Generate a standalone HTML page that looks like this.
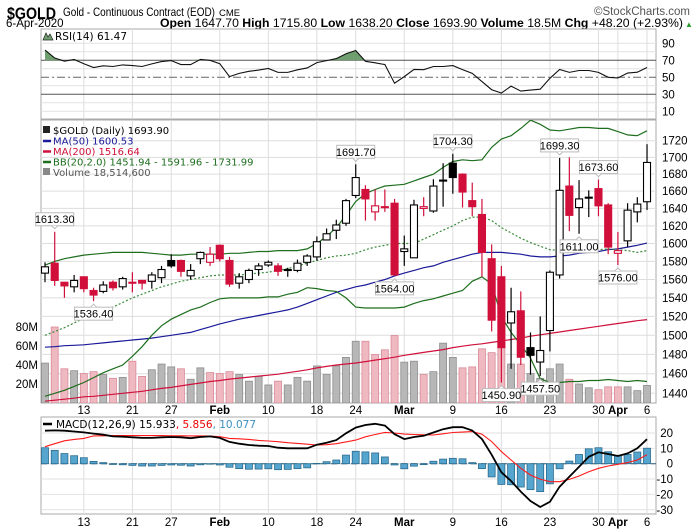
<!DOCTYPE html>
<html><head><meta charset="utf-8"><title>$GOLD chart</title>
<style>
html,body{margin:0;padding:0;background:#fff;}
svg{display:block;font-family:"Liberation Sans",sans-serif;}
.n{font-family:"Liberation Sans Narrow","Liberation Sans",sans-serif;}
.v{font-family:"DejaVu Sans",sans-serif;}
</style></head>
<body>
<svg id="c" width="700" height="530" viewBox="0 0 700 530" xmlns="http://www.w3.org/2000/svg">
<g>
<text x="7" y="19" class="n" font-size="17" font-weight="bold" textLength="49" lengthAdjust="spacingAndGlyphs">$GOLD</text>
<text x="63" y="16" class="n" font-size="12" textLength="152" lengthAdjust="spacingAndGlyphs">Gold - Continuous Contract (EOD)</text>
<text x="219" y="16" class="n" font-size="9.5">CME</text>
<text x="690" y="15" class="n" font-size="11.5" fill="#555" text-anchor="end">©StockCharts.com</text>
<text x="6" y="27" class="n" font-size="11.5">6-Apr-2020</text>
<text x="160" y="27" class="n" font-size="11.5" textLength="523" lengthAdjust="spacingAndGlyphs"><tspan font-weight="bold">Open</tspan> 1647.70 <tspan font-weight="bold">High</tspan> 1715.80 <tspan font-weight="bold">Low</tspan> 1638.20 <tspan font-weight="bold">Close</tspan> 1693.90 <tspan font-weight="bold">Volume</tspan> 18.5M <tspan font-weight="bold">Chg</tspan> +48.20 (+2.93%)</text>
<text x="685" y="27" font-size="8" fill="#2a9a2a">▲</text>
</g>
<g id="grid"></g>
<g id="rsi"></g>
<g id="main"></g>
<g id="macd"></g>
<g id="labels"></g>
</svg>
<script>
const dates=["7","8","9","10","13","14","15","16","17","21","22","23","24","27","28","29","30","31","Feb","4","5","6","7","10","11","12","13","14","18","19","20","21","24","25","26","27","28","Mar","3","4","5","6","9","10","11","12","13","16","17","18","19","20","23","24","25","26","27","30","31","Apr","2","3","6"];
const openP=[1567,1578,1557,1552,1563,1548,1547,1557,1552,1557,1559,1558,1562,1581,1581,1564,1583,1579,1598,1581,1556,1560,1571,1576,1575,1570,1570,1579,1585,1604,1615,1623,1655,1662,1636,1642,1646,1591,1584,1640,1637,1673,1693,1680,1649,1633,1583,1563,1513,1526,1487,1472,1505,1565,1666,1641,1653,1663,1644,1589,1603,1636,1647.7];
const highP=[1579,1613.3,1557,1565,1563,1551,1558,1559,1563,1568,1559,1568,1575,1588,1582,1577,1591,1596,1599,1585,1567,1572,1578,1581,1578,1573,1582,1588,1608,1617,1627,1651,1691.7,1667,1662,1662,1651,1609,1650,1653,1674,1693,1704.3,1681,1670,1651,1599,1575,1551,1547,1503,1520,1570,1699.3,1700,1673,1661,1673.6,1646,1613,1646,1653,1715.8];
const lowP=[1557,1553,1540,1546,1546,1536.4,1545,1548,1549,1546,1549,1550,1556,1573,1563,1560,1577,1575,1580,1552,1550,1556,1564,1574,1564,1563,1568,1575,1581,1604,1605,1620,1652,1626,1626,1636,1564,1575,1584,1631,1635,1642,1657,1641,1631,1563,1504,1450.9,1465,1469,1459,1457.5,1483,1561,1614,1611,1630,1631,1588,1576,1596,1624,1638.2];
const closeP=[1574,1559,1553,1559,1550,1543,1554,1551,1561,1557,1556,1565,1571,1575,1569,1570,1590,1588,1583,1555,1563,1570,1575,1579,1569,1571,1578,1586,1602,1611,1621,1649,1676,1651,1643,1642,1565,1594,1644,1642,1666,1673,1676,1659,1642,1590,1516,1487,1525,1477,1479,1484,1568,1661,1632,1651,1653,1643,1596,1592,1638,1645,1693.9];
const volumeM=[42,80,36,34,31,33,30,26,27,44,28,35,41,38,36,25,37,32,31,33,30,23,28,19,23,19,27,23,39,30,39,48,65,65,51,56,71,43,44,30,33,63,48,37,38,57,53,63,41,41,31,26,36,41,25,20,16,14,17,17,17,13,18.5];
const ma50=[1487.5,1488,1489,1489.5,1490,1491,1492,1493,1494,1495,1496,1497,1498.5,1500,1501.5,1503,1506,1509,1512,1514.5,1517,1519,1521,1523,1525,1527,1530,1534,1538,1542,1546,1549,1552,1554,1557,1560,1564,1567,1570,1573,1575,1579,1582,1585,1588,1590,1590,1590,1589,1588,1586,1585,1585,1586,1587,1589,1590,1591,1593,1594,1596,1598,1600.5];
const ma200=[1432,1433,1434,1435,1436.5,1437,1438,1439,1440,1441,1442,1443.5,1445,1446,1447.5,1449,1450.5,1452,1453,1454.5,1455.5,1456.5,1457.5,1458.5,1459.5,1461,1462.5,1464,1466,1467.5,1469,1470,1471,1472.5,1474,1475.5,1477,1479,1480.5,1482,1483.5,1485,1487,1488.5,1490,1491,1492.5,1494,1495.5,1497,1499,1500.5,1502,1503.5,1505,1506.5,1508,1509.5,1511,1512.5,1514,1515.5,1516.6];
const bbUpper=[1576,1580,1583,1585,1587,1588,1589,1590,1590,1590,1590,1589,1588,1587,1587,1588,1588,1588,1588,1589,1589,1590,1591,1591,1592,1592,1592,1594,1600,1608,1618,1632,1648,1657,1662,1666,1667,1668,1672,1676,1680,1688,1695,1697,1696,1697,1712,1722,1726,1735,1745,1740,1733,1732,1734,1736,1736,1735,1735,1731,1727,1726,1732];
const bbMid=[1500,1504,1508,1513,1518,1522,1526,1530,1535,1540,1544,1548,1552,1555,1558,1560,1562,1564,1565,1565,1565,1566,1567,1568,1570,1572,1575,1578,1581,1584,1586,1587,1589,1593,1596,1598,1600,1600,1600,1605,1610,1615,1620,1626,1630,1630,1626,1618,1612,1606,1601,1597,1593,1592,1592,1592,1592,1593,1594,1593,1592,1590,1592];
const bbLower=[1437,1440,1443,1447,1451,1456,1461,1465,1469,1478,1488,1500,1510,1517,1522,1527,1530,1535,1539,1540,1540,1540,1540,1541,1541,1544,1546,1551,1550,1548,1547,1540,1530,1529,1529,1529,1529,1530,1534,1537,1539,1542,1545,1548,1558,1563,1555,1520,1503,1490,1476,1455,1451,1451,1452,1452,1453,1453,1454,1453,1452,1453,1452];
const rsi=[82,72.7,69,71,66,61.5,63.5,62.7,64.6,63.8,62.7,65.8,68.5,69.6,65,65,71,70,66,50.8,54.6,57,58.5,60.4,55.8,55.8,58.8,61,67.3,69.6,72,77.7,81.5,68.8,67,65,43,50.8,59.2,59,62.7,62.7,63.8,59,54.6,45,35.4,31.5,39.6,33.8,35,36,48.8,59.2,55.8,58,58,55.8,50,49.2,55,56,61.5];
const macdLine=[21.5,21.7,21.5,21,20.4,19.6,18.9,17.8,17.6,17.2,16.8,16.8,17.2,17.4,17.2,16.6,17.4,17.8,16.8,14.2,13,12.2,11.7,11.5,10.4,10,10,10,12.4,13.7,15.4,19.8,23.5,25.2,26,24.8,19.2,16,17.4,18.2,20.3,22.5,23.8,23.8,21.6,16,5.8,-5.6,-11.3,-18.2,-24.3,-28.2,-24.8,-15,-8.5,-2,4.5,7.4,6.3,5,6.7,10,15.933];
const signalLine=[11.1,13,14.9,15.8,16.5,18.1,18.2,18.3,18.3,18.3,18.3,18.3,18.3,18.2,18.2,18.1,18.1,18,17.6,16.5,16.2,15.8,15.2,14.8,14.3,13.7,13.2,12.7,12.2,12.4,13,14.2,15.4,17.5,19,20.4,20,19.3,19,18.8,18.7,19.5,20.3,20.6,20.9,19.2,14.4,7.9,2.4,-3,-7.4,-10,-11.7,-11.7,-10.2,-8,-5.2,-3,-1.5,-0.4,0.7,2.4,5.856];
const priceTicks=[1720,1700,1680,1660,1640,1620,1600,1580,1560,1540,1520,1500,1480,1460,1440];
const volTicks=[80,60,40,20];
const rsiTicks=[90,70,50,30,10];
const macdTicks=[20,10,0,-10,-20,-30];
const dateTickIdx=[4,9,13,18,23,28,32,37,42,47,52,57,59,62];
const dateTickText=["13","21","27","Feb","10","18","24","Mar","9","16","23","30","Apr","6"];
const callIdx=[1,5,32,36,42,47,51,53,57,55,59];
const callKind=["h","l","h","l","h","l","l","h","h","l","l"];
const prevClose0=1566;

const NS="http://www.w3.org/2000/svg";
const L=41,R=656;
const xI=i=>45+i*9.71;
const lg1=Math.log(1720),lgR=Math.log(1720)-Math.log(1440);
const yP=p=>140.7+(lg1-Math.log(p))/lgR*252.6;
const yV=v=>403-v*0.95;
const yR=r=>77.3-(r-50)*0.85;
const yM=m=>463.7-m*1.535;
function mk(parent,tag,attrs){const e=document.createElementNS(NS,tag);for(const k in attrs)e.setAttribute(k,attrs[k]);parent.appendChild(e);return e;}
const G=id=>document.getElementById(id);
const svg=G('c');
let defs=mk(svg,'defs',{});
let cp=mk(defs,'clipPath',{id:'mainclip'});mk(cp,'rect',{x:L,y:120,width:R-L,height:283});
let cp2=mk(defs,'clipPath',{id:'rsiclip'});mk(cp2,'rect',{x:L,y:29,width:R-L,height:90});

const grid=G('grid');
const panels=[[29,119,'rsi-panel'],[120,403,'price-panel'],[417,514,'macd-panel']];
panels.forEach(p=>{
  const r=mk(grid,'rect',{x:L,y:p[0],width:R-L,height:p[1]-p[0],fill:'#fff',stroke:'#aaa','stroke-width':1});
  
  
});
dateTickIdx.forEach(i=>{
  panels.forEach(p=>{
    const l=mk(grid,'line',{x1:xI(i),x2:xI(i),y1:p[0],y2:p[1],stroke:'#ddd','stroke-width':1});
    
    
  });
});
const labels=G('labels');
priceTicks.forEach(p=>{
  const y=yP(p);
  const l=mk(grid,'line',{x1:L,x2:R,y1:y,y2:y,stroke:'#ddd'});
  
  
  const t=mk(labels,'text',{x:662,y:y+4,'font-size':11.5,class:'n'});t.textContent=p;
  
  
});
volTicks.forEach(v=>{
  const t=mk(labels,'text',{x:38,y:yV(v)+4,'font-size':11.5,class:'n','text-anchor':'end'});t.textContent=v+'M';
  
  
});
const rsiG=G('rsi');
for(let r=10;r<=90;r+=10){const y=yR(r);
  let st=(r==70||r==30)?'#555':'#e2e2e2';
  const l=mk(rsiG,'line',{x1:L,x2:R,y1:y,y2:y,stroke:st});
  if(r==50){l.setAttribute('stroke','#666');l.setAttribute('stroke-dasharray','8,3,2,3');}
  
  
}
rsiTicks.forEach(r=>{const t=mk(labels,'text',{x:662,y:yR(r)+4,'font-size':11.5,class:'n'});t.textContent=r;
  
  });
let rpts=rsi.map((r,i)=>[xI(i),yR(r)]);
let fillD='M'+rpts.map(p=>p[0].toFixed(1)+','+Math.min(p[1],yR(70)).toFixed(1)).join(' L');
fillD+=' L'+xI(rsi.length-1)+','+yR(70)+' L'+xI(0)+','+yR(70)+'Z';
const rf=mk(rsiG,'path',{d:fillD,fill:'#6f9f6f',stroke:'none','clip-path':'url(#rsiclip)'});


const rl=mk(rsiG,'polyline',{points:rpts.map(p=>p.join(',')).join(' '),fill:'none',stroke:'#111','stroke-width':1.1});


const rlg=mk(rsiG,'text',{x:55,y:40,'font-size':10.5,class:'v'});rlg.textContent='RSI(14) 61.47';


const rli=mk(rsiG,'path',{d:'M43,40 L46,33 L48,37 L50,34 L53,40Z',fill:'#6f9f6f',stroke:'#222','stroke-width':0.7});



const mainG=G('main');
const mc=mk(mainG,'g',{'clip-path':'url(#mainclip)'});
volumeM.forEach((v,i)=>{
  const pc=i?closeP[i-1]:prevClose0;const down=closeP[i]<pc;
  const b=mk(mc,'rect',{x:xI(i)-3.5,y:yV(v),width:7,height:403-yV(v),fill:down?'#efb9c2':'#b7b7b7',stroke:down?'#d98a97':'#8e8e8e','stroke-width':0.8});
  
  
});
function line(arr,fn,color,dash,name,w){
  const pl=mk(mc,'polyline',{points:arr.map((v,i)=>xI(i).toFixed(1)+','+fn(v).toFixed(1)).join(' '),fill:'none',stroke:color,'stroke-width':w||1.2});
  if(dash)pl.setAttribute('stroke-dasharray',dash);
  
  
}
line(ma200,yP,'#d0103a',null,'ma200-line');
line(ma50,yP,'#1a1a9a',null,'ma50-line');
line(bbUpper,yP,'#1e6e1e',null,'bb-upper-line');
line(bbLower,yP,'#1e6e1e',null,'bb-lower-line');
line(bbMid,yP,'#3a8a3a','2,2','bb-middle-line');
closeP.forEach((c,i)=>{
  const o=openP[i],h=highP[i],l=lowP[i];const pc=i?closeP[i-1]:prevClose0;
  const col=c<pc?'#d0103a':'#000';const x=xI(i);
  const w=mk(mc,'line',{x1:x,x2:x,y1:yP(h),y2:yP(l),stroke:col,'stroke-width':1.2});
  
  
  const top=yP(Math.max(o,c)),bot=yP(Math.min(o,c));
  const filled=c<o;
  const b=mk(mc,'rect',{x:x-3.5,y:top,width:7,height:Math.max(bot-top,1),fill:filled?col:'#fff',stroke:col,'stroke-width':1.1});
  
  
});
callIdx.forEach((i,k)=>{
  const hi=callKind[k]=='h';const v=hi?highP[i]:lowP[i];
  const x=xI(i),y=yP(v);const txt=v.toFixed(2);
  const g=mk(mainG,'g',{});
  
  
  const by=hi?y-19:y+6;
  mk(g,'rect',{x:x-19,y:by,width:38,height:13,fill:'#fff',stroke:'#bbb'});
  mk(g,'path',{d:hi?`M${x-3},${by+13} L${x},${by+16} L${x+3},${by+13}`:`M${x-3},${by} L${x},${by-3} L${x+3},${by}`,fill:'#fff',stroke:'#bbb'});
  const t=mk(g,'text',{x:x,y:by+10.5,'font-size':11,'text-anchor':'middle',class:'n'});t.textContent=txt;
});
const leg=[['$GOLD (Daily) 1693.90','#000',134],['MA(50) 1600.53','#1a1a9a',144.5],['MA(200) 1516.64','#d0103a',155],['BB(20,2.0) 1451.94 - 1591.96 - 1731.99','#1e6e1e',165.5],['Volume 18,514,600','#555',176]];
leg.forEach((e,k)=>{
  const t=mk(mainG,'text',{x:53,y:e[2],'font-size':10,fill:e[1],class:'v'});t.textContent=e[0];
  
  
  if(k>0&&k<4){mk(mainG,'line',{x1:43,x2:51,y1:e[2]-3.5,y2:e[2]-3.5,stroke:e[1],'stroke-width':2.5});}
  else{mk(mainG,'rect',{x:43,y:e[2]-8,width:7,height:7,fill:k?'#888':'#222'});}
});

const mg=G('macd');
macdTicks.forEach(m=>{const y=yM(m);
  const l=mk(mg,'line',{x1:L,x2:R,y1:y,y2:y,stroke:'#e2e2e2'});
  
  
  const t=mk(labels,'text',{x:673,y:y+4,'font-size':11.5,'text-anchor':'end',class:'n'});t.textContent=m;
  
  
});
const z=mk(mg,'line',{x1:L,x2:R,y1:yM(0),y2:yM(0),stroke:'#2a5a7a','stroke-dasharray':'6,4'});


macdLine.forEach((m,i)=>{
  const h=m-signalLine[i];const y0=yM(0),y1=yM(h);
  const b=mk(mg,'rect',{x:xI(i)-3.5,y:Math.min(y0,y1),width:7,height:Math.max(Math.abs(y1-y0),0.5),fill:'#55a5cf',stroke:'#2b6b8e','stroke-width':0.8});
  
  
});
const sp=mk(mg,'polyline',{points:signalLine.map((v,i)=>xI(i).toFixed(1)+','+yM(v).toFixed(1)).join(' '),fill:'none',stroke:'#ff1a1a','stroke-width':1.1});


const ml=mk(mg,'polyline',{points:macdLine.map((v,i)=>xI(i).toFixed(1)+','+yM(v).toFixed(1)).join(' '),fill:'none',stroke:'#000','stroke-width':1.8});


mk(mg,'line',{x1:43,x2:52,y1:424,y2:424,stroke:'#000','stroke-width':2.5});
const mlg=mk(mg,'text',{x:56,y:428,'font-size':10.5,class:'v'});
mlg.innerHTML='MACD(12,26,9) 15.933<tspan fill="#e00">, 5.856</tspan><tspan fill="#3a8fc0">, 10.077</tspan>';



dateTickIdx.forEach((i,k)=>{
  const bold=/^[A-Z]/.test(dateTickText[k]);
  [414,526].forEach(y=>{
    const t=mk(labels,'text',{x:xI(i),y:y,'font-size':11.5,'text-anchor':'middle',class:'n','font-weight':bold?'bold':'normal'});
    t.textContent=dateTickText[k];
    
    
  });
});
</script>
</body></html>
